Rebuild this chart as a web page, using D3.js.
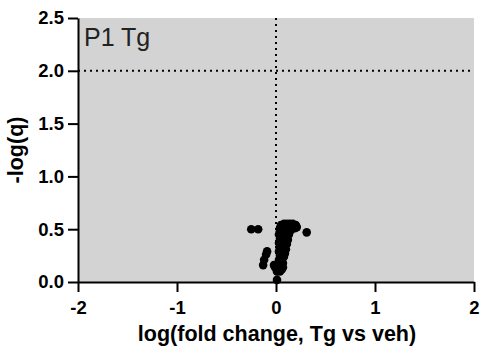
<!DOCTYPE html>
<html><head><meta charset="utf-8">
<script src="https://cdn.jsdelivr.net/npm/d3@7"></script>
<style>body{margin:0;background:#fff;}svg{display:block;font-family:"Liberation Sans",Arial,sans-serif;}</style>
</head><body>
<script>
const xTicks = [-2, -1, 0, 1, 2];
const yTicks = [0, 0.5, 1.0, 1.5, 2.0, 2.5];
const xValues = [0.05,0.08,0.11,0.14,0.17,0.20,0.21,0.04,0.07,0.10,0.13,0.16,0.19,0.04,0.08,0.12,0.15,
  0.03,0.06,0.10,0.13,0.04,0.08,0.12,0.03,0.07,0.11,0.04,0.08,0.10,0.03,0.06,0.09,0.04,0.08,0.03,0.06,0.04,0.07,
  0.02,0.05,-0.01,0.03,0.06,-0.02,0.01,0.04,0.07,0.01,
  -0.09,-0.10,-0.12,-0.13,
  -0.25,-0.18,0.31];
const yValues = [0.54,0.55,0.55,0.55,0.55,0.54,0.52,0.51,0.52,0.52,0.52,0.52,0.51,0.48,0.49,0.49,0.49,
  0.45,0.45,0.45,0.45,0.41,0.41,0.40,0.37,0.37,0.36,0.33,0.33,0.31,0.29,0.28,0.27,0.25,0.24,0.21,0.21,0.18,0.18,
  0.16,0.15,0.14,0.12,0.12,0.16,0.10,0.10,0.14,0.02,
  0.29,0.26,0.21,0.16,
  0.50,0.50,0.47];
const xTitle = "log(fold change, Tg vs veh)";
const yTitle = "-log(q)";
const panelLabel = "P1 Tg";
const threshold = 2.0;

const W = 482, H = 350;
const m = {left: 78, right: 8, top: 18, bottom: 68};
const svg = d3.select("body").append("svg").attr("width", W).attr("height", H);
const x = d3.scaleLinear().domain([-2, 2]).range([m.left, W - m.right]);
const y = d3.scaleLinear().domain([0, 2.5]).range([H - m.bottom, m.top]);

svg.append("rect").attr("x", x(-2)).attr("y", y(2.5))
  .attr("width", x(2) - x(-2)).attr("height", y(0) - y(2.5)).attr("fill", "#d3d3d3");

svg.append("line").attr("x1", x(0)).attr("x2", x(0)).attr("y1", y(2.5)).attr("y2", y(0))
  .attr("stroke", "#000").attr("stroke-width", 2).attr("stroke-dasharray", "2,4");
svg.append("line").attr("x1", x(-2)).attr("x2", x(2)).attr("y1", y(threshold)).attr("y2", y(threshold))
  .attr("stroke", "#000").attr("stroke-width", 2).attr("stroke-dasharray", "2,4");

const pts = xValues.map((v, i) => ({x: v, y: yValues[i]}));
svg.append("g").selectAll("circle").data(pts).join("circle")
  .attr("cx", d => x(d.x)).attr("cy", d => y(d.y)).attr("r", 4.3).attr("fill", "#000");

const xAxis = svg.append("g").attr("transform", `translate(0,${y(0)})`)
  .call(d3.axisBottom(x).tickValues(xTicks).tickFormat(d => String(d)).tickSize(10).tickSizeOuter(0));
const yAxis = svg.append("g").attr("transform", `translate(${x(-2)},0)`)
  .call(d3.axisLeft(y).tickValues(yTicks).tickFormat(d => d.toFixed(1)).tickSize(10).tickSizeOuter(0));
[xAxis, yAxis].forEach(a => {
  a.select(".domain").attr("stroke", "#000").attr("stroke-width", 2);
  a.selectAll(".tick line").attr("stroke", "#000").attr("stroke-width", 2);
  a.selectAll("text").attr("font-family", "Liberation Sans, Arial, sans-serif")
    .attr("font-size", 18.5).attr("font-weight", "bold").attr("fill", "#000");
});
xAxis.selectAll("text").attr("y", 32).attr("dy", "0");
yAxis.selectAll("text").attr("x", -14);

svg.append("text").attr("x", (x(-2) + x(2)) / 2 + 1).attr("y", 341).attr("text-anchor", "middle")
  .attr("font-size", 21.5).attr("font-weight", "bold").text(xTitle);
svg.append("text").attr("transform", `translate(23,${(y(0) + y(2.5)) / 2}) rotate(-90)`)
  .attr("text-anchor", "middle").attr("font-size", 21.5).attr("font-weight", "bold").text(yTitle);
svg.append("text").attr("x", x(-2) + 6).attr("y", 46).attr("font-size", 25).attr("fill", "#222").text(panelLabel);
</script>
</body></html>
